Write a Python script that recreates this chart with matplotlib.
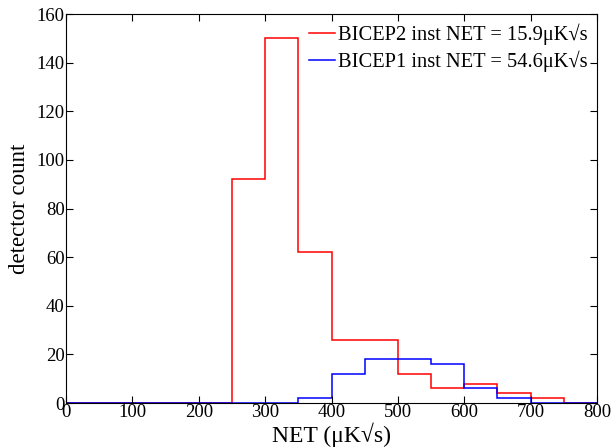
import matplotlib
matplotlib.use("Agg")
import matplotlib.pyplot as plt
import numpy as np

edges = [0, 50, 100, 150, 200, 250, 300, 350, 400, 450, 500, 550, 600, 650, 700, 750, 800]
bicep2_counts = [0, 0, 0, 0, 0, 92, 150, 62, 26, 26, 12, 6, 8, 4, 2, 0]
bicep1_counts = [0, 0, 0, 0, 0, 0, 0, 2, 12, 18, 18, 16, 6, 2, 0, 0]
labels = ["BICEP2 inst NET = 15.9\u03bcK\u221as", "BICEP1 inst NET = 54.6\u03bcK\u221as"]

plt.rcParams['font.family'] = ['Liberation Serif', 'DejaVu Serif']

fig = plt.figure(figsize=(6.13, 4.48), dpi=100)
ax = fig.add_axes([0.1077, 0.1004, 0.8662, 0.8683])

ax.stairs(bicep2_counts, edges, color='red', lw=1.1, label=labels[0])
ax.stairs(bicep1_counts, edges, color='blue', lw=1.1, label=labels[1])

ax.set_xlim(0, 800)
ax.set_ylim(0, 160)
ax.set_xticks(np.arange(0, 801, 100))
ax.set_yticks(np.arange(0, 161, 20))
ax.tick_params(direction='in', top=True, right=True, labelsize=13.5, length=5, pad=1)
ax.set_xlabel("NET (\u03bcK\u221as)", fontsize=17, labelpad=1)
ax.set_ylabel("detector count", fontsize=16.5, labelpad=5)

leg = ax.legend(loc='upper right', frameon=False, fontsize=14.8, handlelength=1.25,
                handletextpad=0.15, labelspacing=0.3, borderaxespad=0.0,
                borderpad=0.45, bbox_to_anchor=(1.0, 1.0))

fig.savefig("out.png", dpi=100)
